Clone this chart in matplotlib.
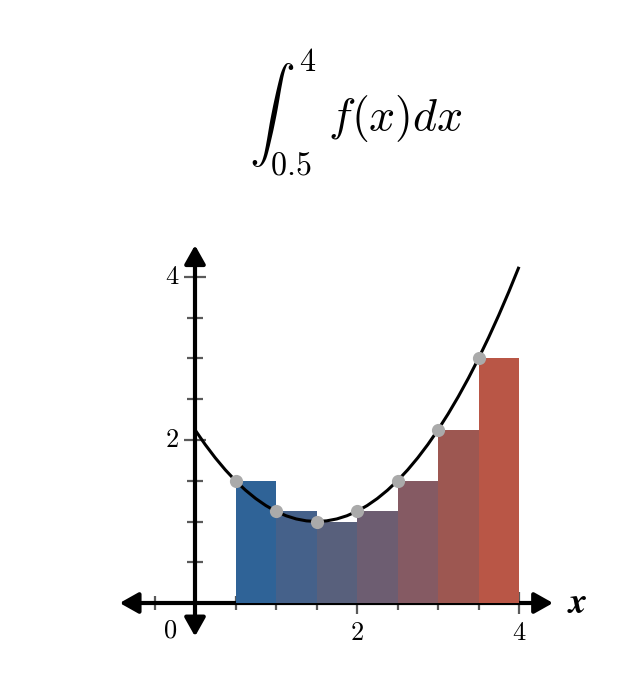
import matplotlib
matplotlib.use("Agg")
import matplotlib.pyplot as plt

plt.rcParams['mathtext.fontset'] = 'cm'
plt.rcParams['font.family'] = ['DejaVu Serif']

# Data
curve_x = [0.0, 0.125, 0.25, 0.375, 0.5, 0.625, 0.75, 0.875, 1.0, 1.125, 1.25, 1.375,
           1.5, 1.625, 1.75, 1.875, 2.0, 2.125, 2.25, 2.375, 2.5, 2.625, 2.75, 2.875,
           3.0, 3.125, 3.25, 3.375, 3.5, 3.625, 3.75, 3.875, 4.0]
curve_y = [2.125, 1.9453, 1.7813, 1.6328, 1.5, 1.3828, 1.2813, 1.1953, 1.125, 1.0703,
           1.0313, 1.0078, 1.0, 1.0078, 1.0313, 1.0703, 1.125, 1.1953, 1.2813, 1.3828,
           1.5, 1.6328, 1.7813, 1.9453, 2.125, 2.3203, 2.5313, 2.7578, 3.0, 3.2578,
           3.5313, 3.8203, 4.125]
bar_left = [0.5, 1.0, 1.5, 2.0, 2.5, 3.0, 3.5]
bar_height = [1.5, 1.125, 1.0, 1.125, 1.5, 2.125, 3.0]
bar_colors = ['#2f6397', '#45618a', '#58607c', '#6d5d71', '#855a63', '#9d5751', '#b95646']
bar_width = 0.5
x_ticks_minor = [-0.5, 0.5, 1.0, 1.5, 2.5, 3.0, 3.5]
x_ticks_major = [2, 4]
x_tick_labels = ['2', '4']
y_ticks_minor = [0.5, 1.0, 1.5, 2.5, 3.0, 3.5]
y_ticks_major = [2, 4]
y_tick_labels = ['2', '4']
lower_limit = '0.5'
upper_limit = '4'

W, H = 642, 680
fig = plt.figure(figsize=(W / 100, H / 100), dpi=100)
# axes: x=0 at px 195, 81 px/unit; y=0 at py 603, 81.5 px/unit
xmin, xmax = -1.5, 5.0
ymin, ymax = -0.6, 4.6
sx, sy = 81.0, 81.5
left_px = 195 - (0 - xmin) * sx
right_px = 195 + xmax * sx
bot_px = 603 + (0 - ymin) * sy
top_px = 603 - ymax * sy
ax = fig.add_axes([left_px / W, (H - bot_px) / H, (right_px - left_px) / W, (bot_px - top_px) / H])
ax.set_xlim(xmin, xmax)
ax.set_ylim(ymin, ymax)
ax.axis('off')

tick_col = '#5a5a5a'
# ticks
for t in x_ticks_minor:
    ax.plot([t, t], [-0.09, 0.09], color=tick_col, lw=1.6, zorder=1, solid_capstyle='butt')
for t in x_ticks_major:
    ax.plot([t, t], [-0.13, 0.13], color=tick_col, lw=1.6, zorder=1, solid_capstyle='butt')
for t in y_ticks_minor:
    ax.plot([-0.1, 0.1], [t, t], color=tick_col, lw=1.6, zorder=1, solid_capstyle='butt')
for t in y_ticks_major:
    ax.plot([-0.14, 0.14], [t, t], color=tick_col, lw=1.6, zorder=1, solid_capstyle='butt')

# axes with arrows
arrow_kw = dict(arrowstyle='<|-|>,head_length=0.8,head_width=0.45', lw=3.0, color='black',
                mutation_scale=14, shrinkA=0, shrinkB=0)
ax.annotate('', xy=(4.42, 0), xytext=(-0.93, 0), arrowprops=arrow_kw, zorder=2)
ax.annotate('', xy=(0, 4.39), xytext=(0, -0.41), arrowprops=arrow_kw, zorder=2)

# bars
ax.bar(bar_left, bar_height, width=bar_width, align='edge', color=bar_colors,
       linewidth=0, zorder=3)

# curve
ax.plot(curve_x, curve_y, color='black', lw=2.2, zorder=4, solid_capstyle='butt',
        solid_joinstyle='round')

# sample points
ax.plot(bar_left, bar_height, 'o', color='#aaaaaa', markersize=9.5, markeredgewidth=0, zorder=5)

# tick labels
for t, lab in zip(x_ticks_major, x_tick_labels):
    ax.text(t, -0.36, '$' + lab + '$', ha='center', va='center', fontsize=19)
for t, lab in zip(y_ticks_major, y_tick_labels):
    ax.text(-0.28, t, '$' + lab + '$', ha='center', va='center', fontsize=19)
ax.text(-0.31, -0.33, '$0$', ha='center', va='center', fontsize=19)

# axis label
ax.text(4.72, 0.0, r'$\boldsymbol{x}$', ha='center', va='center', fontsize=26)

# title
title = r'$\int_{' + lower_limit + r'}^{' + upper_limit + r'}\,\, f(x)dx$'
fig.text(356 / W, 1 - 113 / H, title, ha='center', va='center', fontsize=33)

fig.savefig('out.png', dpi=100, facecolor='white')
